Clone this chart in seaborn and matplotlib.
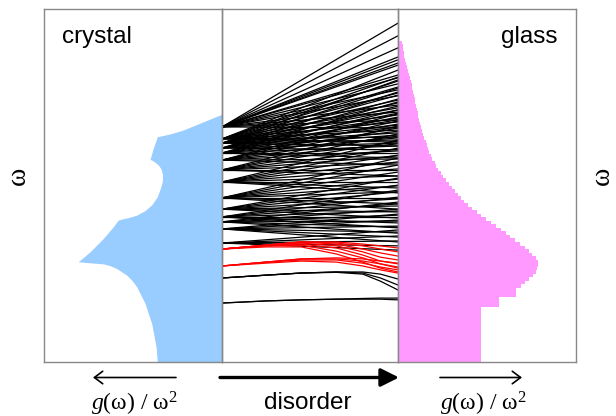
import numpy as np
import pandas as pd
import matplotlib
matplotlib.use("Agg")
import matplotlib.pyplot as plt
import seaborn as sns

# ---------------- data ----------------
# crystal: g(w)/w^2 profile (omega, value)
crystal_omega = [0.000, 0.043, 0.110, 0.138, 0.166, 0.213, 0.232, 0.246, 0.265, 0.273,
                 0.278, 0.281, 0.284, 0.312, 0.350, 0.383, 0.402, 0.406, 0.409, 0.416,
                 0.429, 0.445, 0.468, 0.492, 0.511, 0.530, 0.547, 0.558, 0.566, 0.571,
                 0.574, 0.605, 0.638, 0.646, 0.657, 0.680, 0.692, 0.702]
crystal_g = [0.364, 0.371, 0.396, 0.415, 0.433, 0.480, 0.508, 0.536, 0.593, 0.630,
             0.668, 0.743, 0.809, 0.743, 0.668, 0.612, 0.584, 0.555, 0.527, 0.480,
             0.433, 0.396, 0.364, 0.347, 0.336, 0.334, 0.343, 0.358, 0.377, 0.392,
             0.405, 0.387, 0.364, 0.293, 0.219, 0.107, 0.049, 0.000]

# glass: histogram of g(w)/w^2
glass_low_edges = [0.0, 0.155, 0.185, 0.21]
glass_low_heights = [0.467, 0.570, 0.664]
glass_fine_heights = [0.690, 0.715, 0.740, 0.760, 0.775, 0.785, 0.790, 0.788, 0.775, 0.755,
                      0.735, 0.712, 0.688, 0.660, 0.632, 0.605, 0.578, 0.550, 0.522, 0.495,
                      0.468, 0.443, 0.418, 0.395, 0.372, 0.352, 0.336, 0.322, 0.306, 0.285,
                      0.268, 0.255, 0.240, 0.226, 0.216, 0.207, 0.192, 0.183, 0.175, 0.169,
                      0.162, 0.155, 0.148, 0.140, 0.134, 0.130, 0.124, 0.119, 0.114, 0.110,
                      0.106, 0.102, 0.098, 0.095, 0.091, 0.086, 0.080, 0.076, 0.072, 0.068,
                      0.063, 0.059, 0.053, 0.047, 0.040, 0.036, 0.032, 0.029, 0.026, 0.024]
glass_fine_step = 0.01

# disorder: crystal levels and the glass frequencies they go to (straight fans)
crystal_levels = [0.666, 0.632, 0.620, 0.606, 0.592, 0.572, 0.544, 0.510,
                  0.465, 0.433, 0.411, 0.397, 0.377, 0.337]
glass_ends = [
    [0.960, 0.924, 0.890, 0.864, 0.856, 0.847, 0.841, 0.813, 0.805, 0.788, 0.771, 0.754, 0.728, 0.708, 0.686, 0.663],
    [0.827, 0.807, 0.796, 0.779, 0.762, 0.742, 0.720, 0.700, 0.680, 0.657, 0.637, 0.623],
    [0.799, 0.776, 0.756, 0.734, 0.714, 0.691, 0.671, 0.649, 0.629, 0.612],
    [0.765, 0.745, 0.725, 0.705, 0.686, 0.666, 0.643, 0.620, 0.601],
    [0.737, 0.714, 0.694, 0.674, 0.654, 0.635, 0.612, 0.592, 0.578],
    [0.703, 0.683, 0.663, 0.640, 0.618, 0.598, 0.575, 0.558],
    [0.669, 0.646, 0.626, 0.603, 0.584, 0.564, 0.544, 0.527],
    [0.629, 0.606, 0.586, 0.567, 0.547, 0.527, 0.510, 0.493, 0.479],
    [0.578, 0.558, 0.538, 0.518, 0.499, 0.482, 0.465, 0.448, 0.433],
    [0.521, 0.501, 0.482, 0.462, 0.442, 0.425, 0.408],
    [0.487, 0.467, 0.448, 0.428, 0.411, 0.394, 0.380],
    [0.453, 0.433, 0.416, 0.399, 0.382, 0.365],
    [0.419, 0.402, 0.385, 0.368, 0.354, 0.340],
    [0.374, 0.357, 0.343, 0.329, 0.317],
]

# curved low-frequency branches, sampled at these disorder values
curve_t = [0.0, 0.25, 0.45, 0.65, 0.8, 0.9, 1.0]
black_curves = [
    [0.238, 0.246, 0.252, 0.255, 0.255, 0.249, 0.235],
    [0.238, 0.246, 0.252, 0.255, 0.252, 0.238, 0.218],
    [0.238, 0.246, 0.252, 0.254, 0.249, 0.229, 0.204],
    [0.167, 0.173, 0.176, 0.178, 0.180, 0.181, 0.181],
    [0.167, 0.173, 0.176, 0.178, 0.178, 0.178, 0.176],
]
red_curves = [
    [0.320, 0.331, 0.340, 0.340, 0.334, 0.329, 0.323],
    [0.320, 0.331, 0.340, 0.337, 0.329, 0.320, 0.312],
    [0.320, 0.331, 0.340, 0.334, 0.320, 0.309, 0.300],
    [0.320, 0.331, 0.337, 0.329, 0.312, 0.297, 0.289],
    [0.320, 0.329, 0.334, 0.323, 0.303, 0.286, 0.278],
    [0.320, 0.329, 0.331, 0.314, 0.295, 0.278, 0.266],
    [0.320, 0.326, 0.326, 0.306, 0.283, 0.266, 0.255],
    [0.272, 0.283, 0.292, 0.295, 0.292, 0.286, 0.280],
    [0.272, 0.283, 0.292, 0.292, 0.286, 0.278, 0.269],
    [0.272, 0.283, 0.289, 0.289, 0.280, 0.269, 0.261],
    [0.272, 0.280, 0.286, 0.283, 0.272, 0.261, 0.252],
]

# ---------------- style ----------------
sns.set_theme(style="white")
plt.rcParams["font.family"] = ["Liberation Sans", "DejaVu Sans"]
plt.rcParams["text.color"] = "black"
plt.rcParams["mathtext.fontset"] = "custom"
plt.rcParams["mathtext.rm"] = "Liberation Serif"
plt.rcParams["mathtext.it"] = "Liberation Serif:italic"

BLUE = "#99CCFF"
PINK = "#FF99FF"
SPINE = "#888888"

W, H = 616, 416
fig = plt.figure(figsize=(W / 100, H / 100), dpi=100)
fig.patch.set_facecolor("white")


def make_ax(x0, x1):
    return fig.add_axes([x0 / W, 1 - 362 / H, (x1 - x0) / W, (362 - 9) / H])


ax1 = make_ax(44.3, 222)
ax2 = make_ax(222, 398)
ax3 = make_ax(398, 575.7)

# crystal panel
ax1.fill_betweenx(crystal_omega, 0, crystal_g, color=BLUE, linewidth=0)
ax1.set_xlim(1, 0)

# glass panel
edges = list(glass_low_edges) + [round(glass_low_edges[-1] + glass_fine_step * (i + 1), 4)
                                 for i in range(len(glass_fine_heights))]
heights = list(glass_low_heights) + list(glass_fine_heights)
centers = [(edges[i] + edges[i + 1]) / 2 for i in range(len(heights))]
sns.histplot(y=centers, weights=heights, bins=edges, element="step", fill=True,
             color=PINK, alpha=1, linewidth=0, ax=ax3)
ax3.set_xlim(0, 1)

# disorder panel
rows = []
lid = 0
for lvl, ends in zip(crystal_levels, glass_ends):
    for e in ends:
        rows.append((lid, 0.0, lvl))
        rows.append((lid, 1.0, e))
        lid += 1
for curve in black_curves:
    for t, w in zip(curve_t, curve):
        rows.append((lid, t, w))
    lid += 1
df_lines = pd.DataFrame(rows, columns=["line", "t", "omega"])
sns.lineplot(data=df_lines, x="t", y="omega", units="line", estimator=None,
             color="black", linewidth=0.9, sort=False, ax=ax2, legend=False)

rows = []
for curve in red_curves:
    for t, w in zip(curve_t, curve):
        rows.append((lid, t, w))
    lid += 1
df_red = pd.DataFrame(rows, columns=["line", "t", "omega"])
sns.lineplot(data=df_red, x="t", y="omega", units="line", estimator=None,
             color="red", linewidth=0.9, sort=False, ax=ax2, legend=False)
ax2.set_xlim(0, 1)

for ax in (ax1, ax2, ax3):
    ax.set_ylim(0, 1)
    ax.set_xticks([])
    ax.set_yticks([])
    ax.set_xlabel("")
    ax.set_ylabel("")
    ax.set_facecolor("none")
    for s in ax.spines.values():
        s.set_color(SPINE)
        s.set_linewidth(1.0)
        s.set_visible(True)
        s.set_zorder(5)

# titles inside panels
fig.text(62 / W, 1 - 43 / H, "crystal", fontsize=17.5, ha="left", va="baseline")
fig.text(557 / W, 1 - 43 / H, "glass", fontsize=17.5, ha="right", va="baseline")

# omega axis labels
for xp in (18, 602):
    fig.text(xp / W, 1 - 176 / H, "ω", rotation=90, fontsize=20,
             family=["Liberation Serif", "DejaVu Serif"], ha="center", va="center")

# arrows below
ya = H - 377.5
fig.add_artist(matplotlib.patches.FancyArrowPatch(
    (176, ya), (93, ya), transform=None,
    arrowstyle="->,head_length=6,head_width=4.5", lw=1.2, color="black",
    shrinkA=0, shrinkB=0))
fig.add_artist(matplotlib.patches.FancyArrowPatch(
    (440, ya), (522, ya), transform=None,
    arrowstyle="->,head_length=6,head_width=4.5", lw=1.2, color="black",
    shrinkA=0, shrinkB=0))
fig.add_artist(matplotlib.patches.FancyArrowPatch(
    (220, ya), (399, ya), transform=None,
    arrowstyle="-|>,head_length=11,head_width=5.5", lw=2.4, color="black",
    shrinkA=0, shrinkB=0, mutation_scale=1))

lab = "$g$(ω) / ω$^2$"
fig.text(134 / W, 1 - 410 / H, lab, fontsize=17, family=["Liberation Serif", "DejaVu Serif"],
         ha="center", va="baseline")
fig.text(483 / W, 1 - 410 / H, lab, fontsize=17, family=["Liberation Serif", "DejaVu Serif"],
         ha="center", va="baseline")
fig.text(308 / W, 1 - 409 / H, "disorder", fontsize=17.5, ha="center", va="baseline")

fig.savefig("out.png", dpi=100, facecolor="white")
